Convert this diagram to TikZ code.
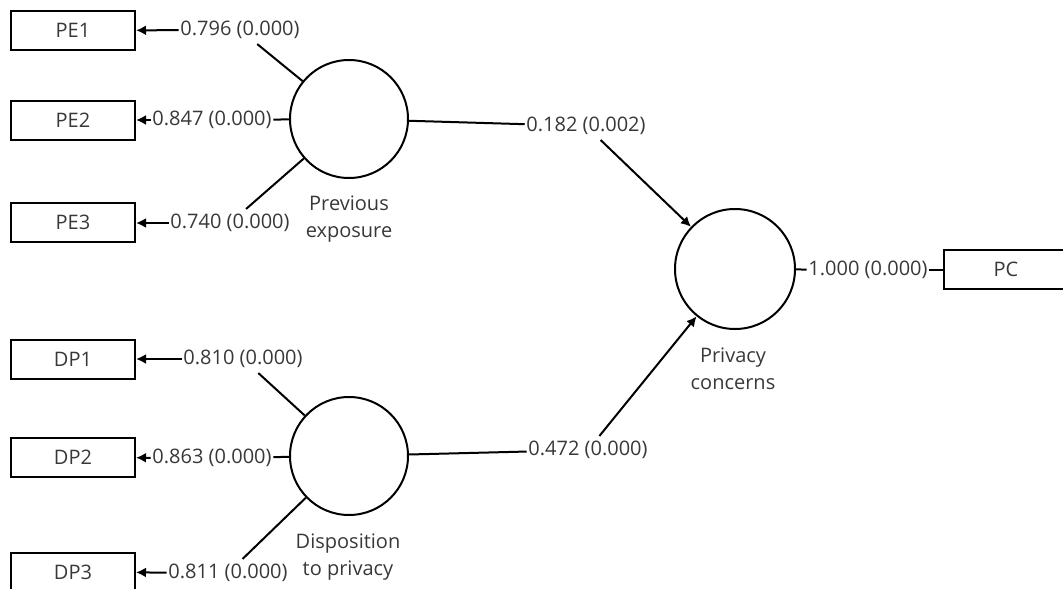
\documentclass[tikz,border=0pt]{standalone}
\usepackage{fontspec}
\setmainfont{Open Sans}
\usetikzlibrary{arrows.meta}
\begin{document}
\begin{tikzpicture}[x=1pt,y=-1pt,
  every node/.style={font=\fontsize{20}{24}\selectfont, text=black!78},
  indicator/.style={draw=black, line width=2pt, minimum width=124pt, minimum height=39pt, inner sep=0pt},
  construct/.style={draw=black, line width=2pt, circle, minimum size=118pt, inner sep=0pt},
  coef/.style={inner xsep=1.5pt, inner ysep=5pt},
  caption/.style={align=center, font=\fontsize{20}{27}\selectfont},
  link/.style={line width=2pt},
  load/.style={line width=2pt, -{Latex[length=10pt,width=10pt]}}
]
\useasboundingbox (0,0) rectangle (1063,589);
\clip (0,0) rectangle (1063,589);

% indicator boxes
\node[indicator] (PE1) at (73,30.5) {PE1};
\node[indicator] (PE2) at (73,120) {PE2};
\node[indicator] (PE3) at (73,222) {PE3};
\node[indicator] (DP1) at (73,359.5) {DP1};
\node[indicator] (DP2) at (73,457.5) {DP2};
\node[indicator] (DP3) at (73,572) {DP3};
\node[indicator] (PC)  at (1006,269) {PC};

% latent constructs
\node[construct] (PEc) at (349,119) {};
\node[construct] (DPc) at (349,456) {};
\node[construct, minimum size=120pt] (PCc) at (735,269) {};

\node[caption] at (349,219) {Previous\\exposure};
\node[caption] at (733,369) {Privacy\\concerns};
\node[caption] at (348,557) {Disposition\\to privacy};

% outer loadings
\node[coef] (l1) at (240,30) {0.796 (0.000)};
\node[coef] (l2) at (212,120) {0.847 (0.000)};
\node[coef] (l3) at (230,223) {0.740 (0.000)};
\node[coef] (l4) at (243,359) {0.810 (0.000)};
\node[coef] (l5) at (212,458) {0.863 (0.000)};
\node[coef] (l6) at (228,573) {0.811 (0.000)};
\node[coef] (l7) at (868,270) {1.000 (0.000)};

% path coefficients
\node[coef] (p1) at (586,126) {0.182 (0.002)};
\node[coef] (p2) at (588,450) {0.472 (0.000)};

\draw[link] (PEc) -- (l1);
\draw[link] (PEc) -- (l2);
\draw[link] (PEc) -- (l3);
\draw[load] (l1) -- (PE1);
\draw[load] (l2) -- (PE2);
\draw[load] (l3.west) -- (PE3.east |- l3.west);

\draw[link] (DPc) -- (l4);
\draw[link] (DPc) -- (l5);
\draw[link] (DPc) -- (l6);
\draw[load] (l4.west) -- (DP1.east |- l4.west);
\draw[load] (l5) -- (DP2);
\draw[load] (l6) -- (DP3);

\draw[link] (PCc) -- (l7);
\draw[link] (l7) -- (PC.west |- l7.east);

\draw[link] (PEc) -- (p1);
\draw[load] (p1) -- (PCc);
\draw[link] (DPc) -- (p2);
\draw[load] (p2) -- (PCc);
\end{tikzpicture}
\end{document}
